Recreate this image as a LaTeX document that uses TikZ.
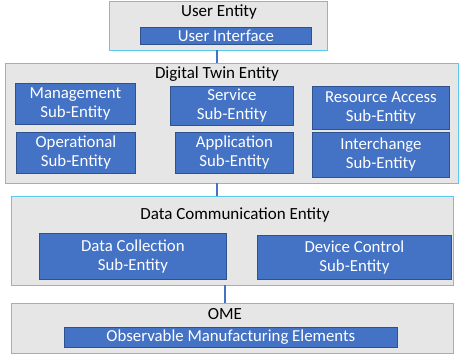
\documentclass[tikz,border=0pt]{standalone}
\usepackage{fontspec}
\setmainfont{Carlito}
\definecolor{outerfill}{HTML}{E7E6E6}
\definecolor{outerline}{HTML}{5BC8F0}
\definecolor{innerfill}{HTML}{4472C4}
\definecolor{innerline}{HTML}{2F528F}
\begin{document}
\begin{tikzpicture}[x=1pt,y=-1pt,
  outerbox/.style={draw=outerline, fill=outerfill, line width=1pt, anchor=north west, inner sep=0pt},
  innerbox/.style={draw=innerline, fill=innerfill, line width=0.8pt, anchor=north west, inner sep=0pt},
  title/.style={font=\fontsize{17}{19}\selectfont, text=black},
  label/.style={font=\fontsize{16.8}{19}\selectfont, text=white, align=center},
  link/.style={draw=innerfill, line width=1.2pt}]
\useasboundingbox (0,0) rectangle (459,358);
% outer boxes
\node[outerbox, minimum width=218pt, minimum height=49pt] (ue) at (109,1) {};
\node[outerbox, minimum width=453pt, minimum height=120pt] (dt) at (5,63) {};
\node[outerbox, minimum width=442pt, minimum height=89pt] (dc) at (11,196) {};
\node[outerbox, minimum width=442pt, minimum height=50pt] (ome) at (11,303) {};
% titles
\node[title] (uet) at (219,12) {User Entity};
\node[title] (dtt) at (217,74) {Digital Twin Entity};
\node[title] (dct) at (235,215) {Data Communication Entity};
\node[title] (omet) at (225,314) {OME};
% inner boxes
\node[innerbox, minimum width=171pt, minimum height=17pt] (ui) at (140,27) {};
\node[label] at (ui.center) {User Interface};
\node[innerbox, minimum width=120pt, minimum height=41pt] (mg) at (15,83) {};
\node[label] at (mg.center) {Management\\Sub-Entity};
\node[innerbox, minimum width=123pt, minimum height=39pt] (sv) at (170,86) {};
\node[label] at (sv.center) {Service\\Sub-Entity};
\node[innerbox, minimum width=137pt, minimum height=43pt] (ra) at (312,86) {};
\node[label] at (ra.center) {Resource Access\\Sub-Entity};
\node[innerbox, minimum width=119pt, minimum height=41pt] (op) at (16,132) {};
\node[label] at (op.center) {Operational\\Sub-Entity};
\node[innerbox, minimum width=118pt, minimum height=41pt] (ap) at (175,132) {};
\node[label] at (ap.center) {Application\\Sub-Entity};
\node[innerbox, minimum width=137pt, minimum height=45pt] (ic) at (312,132) {};
\node[label] at (ic.center) {Interchange\\Sub-Entity};
\node[innerbox, minimum width=187pt, minimum height=46pt] (dcol) at (39,233) {};
\node[label] at (dcol.center) {Data Collection\\Sub-Entity};
\node[innerbox, minimum width=194pt, minimum height=44pt] (dctl) at (257,235) {};
\node[label] at (dctl.center) {Device Control\\Sub-Entity};
\node[innerbox, minimum width=333pt, minimum height=20pt] (obs) at (64,327) {};
\node[label] at (obs.center) {Observable Manufacturing Elements};
% connectors
\coordinate (c1) at (217,50);
\coordinate (c2) at (217,183);
\coordinate (c3) at (225,285);
\draw[link] (c1) -- (c1 |- dt.north);
\draw[link] (c2) -- (c2 |- dc.north);
\draw[link] (c3) -- (c3 |- ome.north);
\end{tikzpicture}
\end{document}
